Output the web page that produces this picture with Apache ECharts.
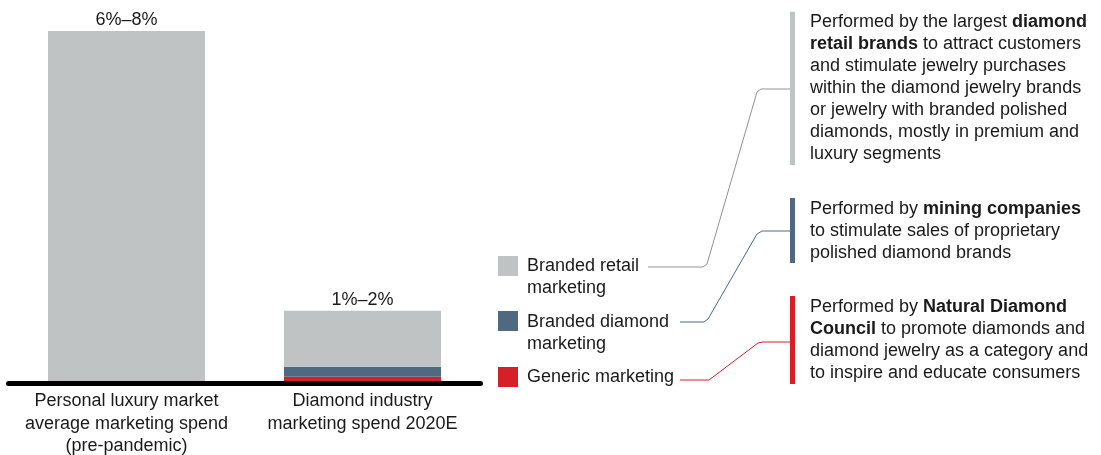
<!DOCTYPE html>
<html>
<head>
<meta charset="utf-8">
<script src="https://cdn.jsdelivr.net/npm/echarts@6/dist/echarts.min.js"></script>
<style>
html,body{margin:0;padding:0;background:#fff;}
#chart{width:1101px;height:455px;}
</style>
</head>
<body>
<div id="chart"></div>
<script>
// ---- data ----
var categories = ['Personal luxury market\naverage marketing spend\n(pre-pandemic)', 'Diamond industry\nmarketing spend 2020E'];
var valueLabels = ['6%–8%', '1%–2%'];
var seriesNames = ['Generic marketing', 'Branded diamond marketing', 'Branded retail marketing'];
var genericValues = ['-', 0.086];
var brandedDiamondValues = ['-', 0.2];
var brandedRetailValues = [7, 1.12];
var legendLabels = ['Branded retail\nmarketing', 'Branded diamond\nmarketing', 'Generic marketing'];
var annotationTexts = [
  'Performed by the largest {b|diamond}\n{b|retail brands} to attract customers\nand stimulate jewelry purchases\nwithin the diamond jewelry brands\nor jewelry with branded polished\ndiamonds, mostly in premium and\nluxury segments',
  'Performed by {b|mining companies}\nto stimulate sales of proprietary\npolished diamond brands',
  'Performed by {b|Natural Diamond}\n{b|Council} to promote diamonds and\ndiamond jewelry as a category and\nto inspire and educate consumers'
];

// ---- styles ----
var FONT = '"Liberation Sans", Arial, Helvetica, sans-serif';
var TXT = '#1a1a1a';
var colRetail = '#bfc3c4', colDiamond = '#4f6a80', colGeneric = '#d52027';
var lineCols = ['#8f9396', '#4f6a80', '#d52027'];
var blockCols = [colRetail, colDiamond, colGeneric];

var chart = echarts.init(document.getElementById('chart'), null, {renderer: 'canvas'});

var graphics = [];
// legend squares + text
var legTops = [256, 311, 367];
var legTextTops = [255.5, 311, 366];
for (var i = 0; i < 3; i++) {
  graphics.push({type: 'rect', shape: {x: 498, y: legTops[i], width: 20, height: 20}, style: {fill: blockCols[i]}});
  graphics.push({type: 'text', x: 527, y: legTextTops[i], style: {text: legendLabels[i], font: '18px ' + FONT, fill: TXT, lineHeight: 22, verticalAlign: 'top'}});
}
// connectors
var conn = [
  [[648,267],[703,267],[707,264],[757,92],[761,89],[790,89]],
  [[680,322],[704,322],[708,319],[757,234],[762,231],[790,231]],
  [[680,380],[709,380],[758,343],[763,342],[790,342]]
];
for (var j = 0; j < 3; j++) {
  graphics.push({type: 'polyline', shape: {points: conn[j]}, style: {stroke: lineCols[j], lineWidth: 1, fill: null}});
}
// vertical bars
var vb = [[11.7, 165], [198, 263], [296, 384]];
for (var k = 0; k < 3; k++) {
  graphics.push({type: 'rect', shape: {x: 790, y: vb[k][0], width: 5, height: vb[k][1] - vb[k][0]}, style: {fill: blockCols[k]}});
}
// annotation texts
var annTops = [11, 198.5, 296];
for (var m = 0; m < 3; m++) {
  graphics.push({type: 'text', x: 810, y: annTops[m], style: {
    text: annotationTexts[m], font: '18px ' + FONT, fontSize: 18, fontFamily: FONT, fill: TXT, lineHeight: 22, verticalAlign: 'top',
    rich: {b: {fontWeight: 'bold', fontSize: 18, fontFamily: FONT, fill: TXT, lineHeight: 22}}
  }});
}

var option = {
  animation: false,
  backgroundColor: '#ffffff',
  grid: {left: 8.5, right: 620.5, top: 31, bottom: 74, containLabel: false, outerBoundsMode: 'none'},
  xAxis: [{
    type: 'category', data: categories,
    axisLine: {show: false}, axisTick: {show: false},
    axisLabel: {interval: 0, fontSize: 18, fontFamily: FONT, color: TXT, lineHeight: 22.5, margin: 9}
  }, {
    type: 'category', data: categories, position: 'bottom', offset: 2.5,
    axisLine: {show: true, lineStyle: {color: '#000', width: 5}},
    axisTick: {show: false}, axisLabel: {show: false}
  }],
  yAxis: {type: 'value', min: 0, max: 7, show: false, splitLine: {show: false}},
  series: [
    {name: seriesNames[0], type: 'bar', stack: 'total', data: genericValues, barWidth: 157, itemStyle: {color: colGeneric}},
    {name: seriesNames[1], type: 'bar', stack: 'total', data: brandedDiamondValues, barWidth: 157, itemStyle: {color: colDiamond}},
    {name: seriesNames[2], type: 'bar', stack: 'total', data: brandedRetailValues, barWidth: 157, itemStyle: {color: colRetail},
      label: {show: true, position: 'top', distance: 2, fontSize: 18, lineHeight: 18, fontFamily: FONT, color: TXT,
        formatter: function (p) { return valueLabels[p.dataIndex]; }}}
  ],
  graphic: graphics
};
chart.setOption(option);
</script>
</body>
</html>
